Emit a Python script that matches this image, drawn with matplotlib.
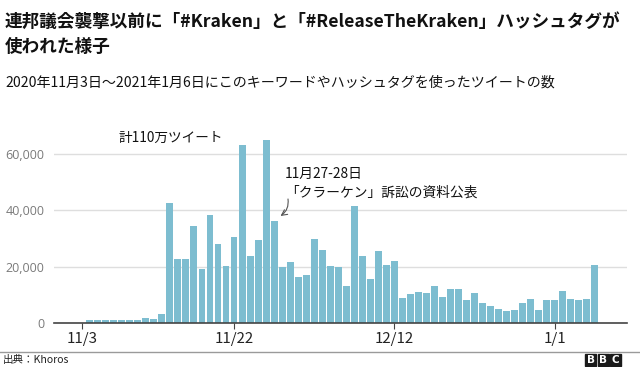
import matplotlib
matplotlib.use("Agg")
import matplotlib.pyplot as plt
import matplotlib.patches as mpatches
import pandas as pd
import numpy as np

plt.rcParams['font.family'] = ['Noto Sans CJK JP', 'DejaVu Sans']

# ---- data ----
start_date = '2020-11-03'
end_date = '2021-01-06'
tweets = [
    0, 900, 900, 900, 900, 900, 900, 1000, 1700, 1400,          # 11/3-11/12
    3000, 42700, 22700, 22600, 34400, 19000, 38200, 28000,        # 11/13-11/20
    20300, 30500, 63200, 23800, 29400, 65100, 36100, 19900,       # 11/21-11/28
    21500, 16400,                                                 # 11/29-11/30
    17100, 29900, 25900, 20200, 19900, 13100, 41400, 23800,       # 12/1-12/8
    15700, 25600, 20400, 21800, 8900, 10200, 10900, 10700,        # 12/9-12/16
    13200, 9000, 12100, 12000, 8000, 10700, 7100, 5900,           # 12/17-12/24
    4800, 4000, 4600, 7000, 8400, 4400, 8200,                     # 12/25-12/31
    8200, 11300, 8400, 8100, 8300, 20600,                         # 1/1-1/6
]
tick_dates = ['2020-11-03', '2020-11-22', '2020-12-12', '2021-01-01']
tick_labels = ['11/3', '11/22', '12/12', '1/1']
y_ticks = [0, 20000, 40000, 60000]
y_tick_labels = ['0', '20,000', '40,000', '60,000']

title = '連邦議会襲撃以前に「#Kraken」と「#ReleaseTheKraken」ハッシュタグが\n使われた様子'
subtitle = '2020年11月3日～2021年1月6日にこのキーワードやハッシュタグを使ったツイートの数'
total_note = '計110万ツイート'
event_note = '11月27-28日\n「クラーケン」訴訟の資料公表'
source = '出典：Khoros'

dates = pd.date_range(start_date, end_date, freq='D')
x = np.array((dates - dates[0]).days)
tick_x = [(pd.Timestamp(d) - dates[0]).days for d in tick_dates]

W, H = 640, 367
fig = plt.figure(figsize=(W / 100, H / 100), dpi=100)
fig.patch.set_facecolor('white')

def fx(px):
    return px / W

def fy(py):
    return 1 - py / H

ax = fig.add_axes([fx(54), fy(322.7), fx(627) - fx(54), fy(130) - fy(322.7)])
ax.bar(x, tweets, width=0.86, color='#7dbdd0', zorder=2)
ax.set_xlim(-3.45, 68.0)
ax.set_ylim(0, 68580)

ax.set_yticks(y_ticks)
ax.set_yticklabels(y_tick_labels, family=['Open Sans', 'DejaVu Sans'], fontsize=9, color='#7a7a7a')
ax.tick_params(axis='y', length=0, pad=7)
ax.grid(axis='y', color='#dedede', lw=1, zorder=0)

ax.set_xticks(tick_x)
ax.set_xticklabels(tick_labels, fontsize=10.8, color='#222222')
ax.tick_params(axis='x', length=4, width=0.8, color='#444444', pad=3)

for s in ['top', 'right', 'left']:
    ax.spines[s].set_visible(False)
ax.spines['bottom'].set_color('#444444')
ax.spines['bottom'].set_linewidth(1.2)
ax.spines['bottom'].set_zorder(3)

# titles
fig.text(fx(5), fy(13), title, fontsize=12.7, fontweight='bold', color='#111111',
         ha='left', va='top', linespacing=1.5)
fig.text(fx(5), fy(83), subtitle, fontsize=10.1, color='#111111', ha='left', va='center')

# annotations
fig.text(fx(171), fy(137.5), total_note, fontsize=9.8, color='#111111', ha='center', va='center')
fig.text(fx(285), fy(167), event_note, fontsize=9.9, color='#111111', ha='left', va='top',
         linespacing=1.4)
ax.annotate('', xy=(fx(280.5), fy(216)), xycoords='figure fraction',
            xytext=(fx(288), fy(199)), textcoords='figure fraction',
            arrowprops=dict(arrowstyle='->', color='#555555', lw=0.8,
                            connectionstyle='arc3,rad=-0.3', shrinkA=0, shrinkB=0))

# footer
fig.add_artist(plt.Line2D([0, 1], [fy(351.5), fy(351.5)], transform=fig.transFigure,
                          color='#9a9a9a', lw=1))
fig.text(fx(3), fy(360), source, fontsize=7.6, color='#222222', ha='left', va='center')
for i, letter in enumerate(['B', 'B', 'C']):
    x0 = 585 + i * 12.5
    fig.add_artist(mpatches.Rectangle((fx(x0), fy(365.5)), fx(11), fy(354) - fy(365.5),
                                      transform=fig.transFigure, color='#1a1a1a'))
    fig.text(fx(x0 + 5.5), fy(359.8), letter, fontsize=7.5, fontweight='bold',
             color='white', ha='center', va='center', family=['DejaVu Sans'])

fig.savefig('out.png', dpi=100, facecolor='white')
